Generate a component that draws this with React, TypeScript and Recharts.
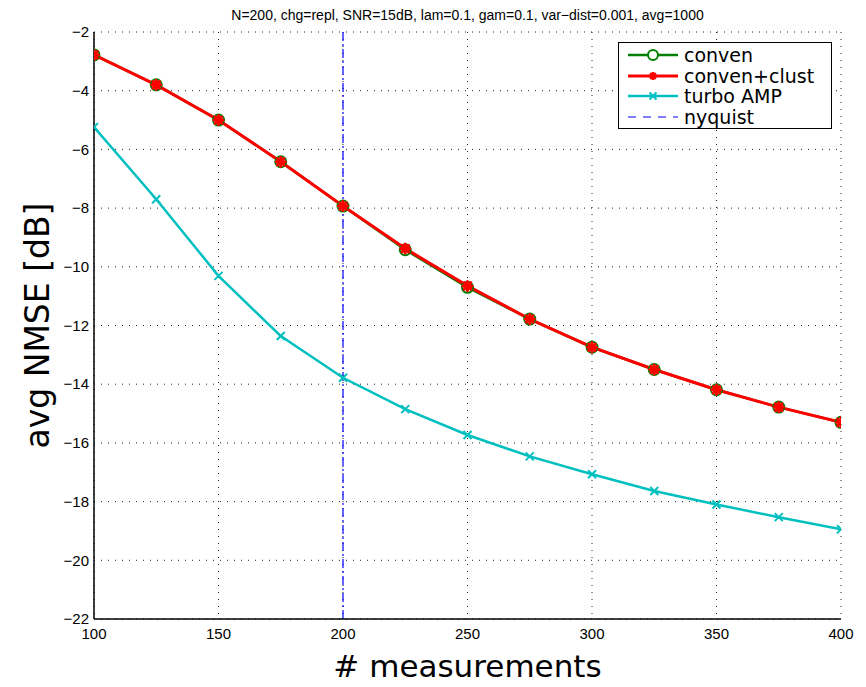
import React from 'react';
import { LineChart, Line, XAxis, YAxis, CartesianGrid, ReferenceLine, Legend } from 'recharts';

const measurements = [100, 125, 150, 175, 200, 225, 250, 275, 300, 325, 350, 375, 400];
const conven = [-2.78, -3.8, -5.0, -6.42, -7.93, -9.42, -10.7, -11.78, -12.74, -13.5, -14.19, -14.78, -15.3];
const convenClust = [-2.78, -3.8, -5.0, -6.42, -7.93, -9.38, -10.65, -11.78, -12.74, -13.5, -14.19, -14.78, -15.3];
const turboAmp = [-5.24, -7.7, -10.31, -12.36, -13.78, -14.85, -15.73, -16.46, -17.07, -17.64, -18.1, -18.53, -18.94];
const xTicks = [100, 150, 200, 250, 300, 350, 400];
const yTicks = [-22, -20, -18, -16, -14, -12, -10, -8, -6, -4, -2];
const nyquist = 200;
const title = 'N=200, chg=repl, SNR=15dB, lam=0.1, gam=0.1, var\u2212dist=0.001, avg=1000';
const legendItems = [
  { key: 'conven', label: 'conven' },
  { key: 'clust', label: 'conven+clust' },
  { key: 'turbo', label: 'turbo AMP' },
  { key: 'nyquist', label: 'nyquist' },
];

const data = measurements.map((m, i) => ({ x: m, conven: conven[i], clust: convenClust[i], turbo: turboAmp[i] }));

const GREEN = '#008000';
const RED = '#FF0000';
const CYAN = '#00BFBF';
const BLUE = '#0000FF';
const TICK_FONT = '"Liberation Sans", Arial, Helvetica, sans-serif';
const LABEL_FONT = '"DejaVu Sans", sans-serif';

const fmt = (v: number) => String(v).replace('-', '\u2212');

const CircleDot = (props: any) => {
  const { cx, cy, index } = props;
  if (cx == null || cy == null) return <g key={index} />;
  return <circle key={index} cx={cx} cy={cy} r={5.5} fill="none" stroke={GREEN} strokeWidth={2} />;
};

const StarDot = (props: any) => {
  const { cx, cy, index } = props;
  if (cx == null || cy == null) return <g key={index} />;
  const r = 4.5;
  const d = r * 0.72;
  return (
    <g key={index} stroke={RED} strokeWidth={3} strokeLinecap="round">
      <line x1={cx - r} y1={cy} x2={cx + r} y2={cy} />
      <line x1={cx} y1={cy - r} x2={cx} y2={cy + r} />
      <line x1={cx - d} y1={cy - d} x2={cx + d} y2={cy + d} />
      <line x1={cx - d} y1={cy + d} x2={cx + d} y2={cy - d} />
    </g>
  );
};

const CrossDot = (props: any) => {
  const { cx, cy, index } = props;
  if (cx == null || cy == null) return <g key={index} />;
  const r = 4;
  return (
    <g key={index} stroke={CYAN} strokeWidth={2}>
      <line x1={cx - r} y1={cy - r} x2={cx + r} y2={cy + r} />
      <line x1={cx - r} y1={cy + r} x2={cx + r} y2={cy - r} />
    </g>
  );
};

const XTick = (props: any) => {
  const { x, y, payload } = props;
  return (
    <text x={x} y={y + 20} textAnchor="middle" fontSize={15} fontFamily={TICK_FONT} fill="#000">
      {fmt(payload.value)}
    </text>
  );
};

const YTick = (props: any) => {
  const { x, y, payload } = props;
  return (
    <text x={x - 5} y={y} dy="0.35em" textAnchor="end" fontSize={15} fontFamily={TICK_FONT} fill="#000">
      {fmt(payload.value)}
    </text>
  );
};

const NoTick = () => <g />;

const XLabel = (props: any) => {
  const { viewBox } = props;
  return (
    <text x={viewBox.x + viewBox.width / 2} y={viewBox.y + 58} textAnchor="middle" fontSize={31} fontFamily={LABEL_FONT} fill="#000">
      # measurements
    </text>
  );
};

const YLabel = (props: any) => {
  const { viewBox } = props;
  const cx = 29;
  const cy = viewBox.y + viewBox.height / 2;
  return (
    <text x={cx} y={cy} transform={`rotate(-90 ${cx} ${cy})`} textAnchor="middle" dominantBaseline="central" fontSize={33} fontFamily={LABEL_FONT} fill="#000">
      avg NMSE [dB]
    </text>
  );
};

const legendSample = (key: string) => {
  const w = 50;
  const c = 25;
  const y = 8;
  if (key === 'conven') {
    return (
      <svg width={w} height={16}>
        <line x1={0} y1={y} x2={w} y2={y} stroke={GREEN} strokeWidth={2.5} />
        <circle cx={c} cy={y} r={5} fill="#fff" stroke={GREEN} strokeWidth={2} />
      </svg>
    );
  }
  if (key === 'clust') {
    const r = 4;
    const d = r * 0.72;
    return (
      <svg width={w} height={16}>
        <line x1={0} y1={y} x2={w} y2={y} stroke={RED} strokeWidth={3} />
        <g stroke={RED} strokeWidth={2.5}>
          <line x1={c} y1={y - r} x2={c} y2={y + r} />
          <line x1={c - d} y1={y - d} x2={c + d} y2={y + d} />
          <line x1={c - d} y1={y + d} x2={c + d} y2={y - d} />
        </g>
      </svg>
    );
  }
  if (key === 'turbo') {
    const r = 3.5;
    return (
      <svg width={w} height={16}>
        <line x1={0} y1={y} x2={w} y2={y} stroke={CYAN} strokeWidth={2.5} />
        <g stroke={CYAN} strokeWidth={2}>
          <line x1={c - r} y1={y - r} x2={c + r} y2={y + r} />
          <line x1={c - r} y1={y + r} x2={c + r} y2={y - r} />
        </g>
      </svg>
    );
  }
  return (
    <svg width={w} height={16}>
      <line x1={0} y1={y} x2={w} y2={y} stroke={BLUE} strokeWidth={1.2} strokeDasharray="8 7" />
    </svg>
  );
};

const renderLegend = () => (
  <div
    style={{
      boxSizing: 'border-box',
      width: 214,
      height: 87,
      border: '1.5px solid #000',
      background: '#fff',
      padding: '2px 0 0 9px',
    }}
  >
    {legendItems.map((it) => (
      <div key={it.key} style={{ display: 'flex', alignItems: 'center', height: 20.5 }}>
        {legendSample(it.key)}
        <span style={{ marginLeft: 6, fontFamily: LABEL_FONT, fontSize: 19, lineHeight: '20px', color: '#000' }}>{it.label}</span>
      </div>
    ))}
  </div>
);

export default function App() {
  return (
    <div style={{ position: 'relative', width: 850, height: 679, background: '#fff' }}>
      <div
        style={{
          position: 'absolute',
          left: 86,
          width: 747,
          top: 0,
          textAlign: 'center',
          fontFamily: TICK_FONT,
          fontSize: 14,
          lineHeight: '14px',
          color: '#000',
          zIndex: 2,
        }}
      >
        {title}
      </div>
      <LineChart width={850} height={679} data={data} margin={{ top: 24, right: 17, bottom: 8, left: 0 }}>
        <CartesianGrid xAxisId="x" yAxisId="y" stroke="#222" strokeWidth={1} strokeDasharray="1 6" horizontalValues={yTicks} verticalValues={xTicks} />
        <XAxis
          xAxisId="x"
          dataKey="x"
          type="number"
          domain={[100, 400]}
          ticks={xTicks}
          tickLine={false}
          tickSize={0}
          tickMargin={0}
          tick={<XTick />}
          height={60}
          axisLine={{ stroke: '#000', strokeWidth: 1.5 }}
          label={<XLabel />}
          allowDataOverflow
        />
        <XAxis xAxisId="xb" dataKey="x" type="number" domain={[100, 400]} ticks={xTicks} mirror height={0} tickSize={7} tick={NoTick} tickLine={{ stroke: '#000' }} axisLine={false} allowDataOverflow />
        <XAxis xAxisId="xt" dataKey="x" type="number" orientation="top" domain={[100, 400]} ticks={xTicks} mirror height={0} tickSize={7} tick={NoTick} tickLine={{ stroke: '#000' }} axisLine={{ stroke: '#000', strokeWidth: 1.5 }} allowDataOverflow />
        <YAxis
          yAxisId="y"
          type="number"
          domain={[-22, -2]}
          ticks={yTicks}
          tickLine={false}
          tickSize={0}
          tickMargin={0}
          tick={<YTick />}
          width={86}
          axisLine={{ stroke: '#000', strokeWidth: 1.5 }}
          label={<YLabel />}
          allowDataOverflow
        />
        <YAxis yAxisId="yl" type="number" domain={[-22, -2]} ticks={yTicks} mirror width={0} tickSize={7} tick={NoTick} tickLine={{ stroke: '#000' }} axisLine={false} allowDataOverflow />
        <YAxis yAxisId="yr" orientation="right" type="number" domain={[-22, -2]} ticks={yTicks} mirror width={0} tickSize={7} tick={NoTick} tickLine={{ stroke: '#000' }} axisLine={{ stroke: '#000', strokeWidth: 1.5 }} allowDataOverflow />
        <ReferenceLine xAxisId="x" yAxisId="y" x={nyquist} stroke={BLUE} strokeWidth={1.2} strokeDasharray="9 3 2 3" />
        <Line xAxisId="x" yAxisId="y" type="linear" dataKey="conven" stroke={GREEN} strokeWidth={2.5} dot={CircleDot} activeDot={false} isAnimationActive={false} />
        <Line xAxisId="x" yAxisId="y" type="linear" dataKey="clust" stroke={RED} strokeWidth={3} dot={StarDot} activeDot={false} isAnimationActive={false} />
        <Line xAxisId="x" yAxisId="y" type="linear" dataKey="turbo" stroke={CYAN} strokeWidth={2.5} dot={CrossDot} activeDot={false} isAnimationActive={false} />
        <Legend layout="vertical" align="center" verticalAlign="middle" content={renderLegend} wrapperStyle={{ left: 610, top: 34, width: 214, height: 87 }} />
      </LineChart>
    </div>
  );
}
